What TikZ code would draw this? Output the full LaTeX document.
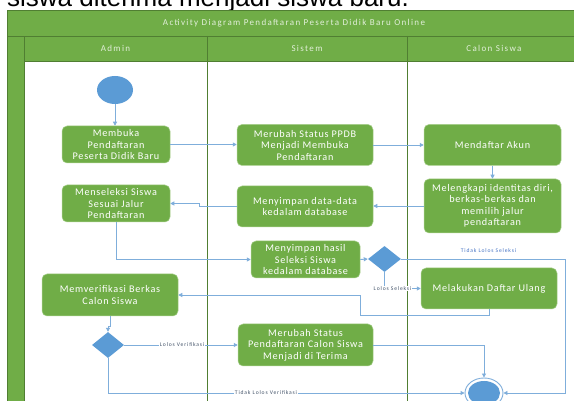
\documentclass[tikz,border=0pt]{standalone}
\usepackage{fontspec}
\usetikzlibrary{shapes.geometric,arrows.meta}
\newfontfamily\diafont{Carlito}[LetterSpace=15]
\newfontfamily\boxfont{Carlito}[LetterSpace=7]
\newfontfamily\topfont{Liberation Sans}
\definecolor{pgreen}{HTML}{70AD47}
\definecolor{dgreen}{HTML}{507E32}
\definecolor{lgreen}{HTML}{A9D08E}
\definecolor{pblue}{HTML}{5B9BD5}
\definecolor{lblue}{HTML}{7FAEDB}
\definecolor{labc}{HTML}{44546A}
\definecolor{labb}{HTML}{4472C4}
\definecolor{htext}{HTML}{E2EFDA}
\tikzset{
  actbox/.style={rectangle, rounded corners=5pt, fill=pgreen, draw=lgreen, line width=0.5pt,
    text=white, align=center, inner sep=1pt, font=\boxfont\fontsize{10.2}{11.5}\selectfont},
  decis/.style={diamond, fill=pblue, draw=none, inner sep=0pt},
  flow/.style={draw=lblue, line width=0.9pt, -{Triangle[length=4pt,width=4pt]}},
  flabel/.style={font=\diafont\fontsize{5.6}{6.5}\selectfont, text=labc, inner sep=0.6pt},
  hdr/.style={font=\diafont\fontsize{9}{11}\selectfont, text=htext}
}
\begin{document}
\begin{tikzpicture}[x=1pt,y=-1pt]
\clip (0,0) rectangle (574,401);
\fill[white] (0,0) rectangle (574,401);
% cut-off text at the top
\node[anchor=base west, inner sep=0pt, font=\topfont\fontsize{26}{30}\selectfont] (toptext) at (7,7) {siswa diterima menjadi siswa baru.};
% pool
\draw[dgreen, line width=0.8pt] (7,10) rectangle (582,412);
\filldraw[fill=pgreen, draw=dgreen, line width=0.8pt] (7,10) rectangle (582,36);
\filldraw[fill=pgreen, draw=dgreen, line width=0.8pt] (7,36) rectangle (582,61);
\filldraw[fill=pgreen, draw=dgreen, line width=0.8pt] (7,36) rectangle (24,412);
\draw[dgreen, line width=0.8pt] (207,36) -- (207,412);
\draw[dgreen, line width=0.8pt] (407,36) -- (407,412);
\node[hdr] (title) at (294,23) {Activity Diagram Pendaftaran Peserta Didik Baru Online};
\node[hdr] (admin) at (115.5,48.5) {Admin};
\node[hdr] (sistem) at (307,48.5) {Sistem};
\node[hdr] (calon) at (494,48.5) {Calon Siswa};
% nodes
\node[ellipse, fill=pblue, minimum width=36pt, minimum height=28pt, inner sep=0pt] (start) at (115,90) {};
\node[actbox, minimum width=108pt, minimum height=37pt] (n1) at (116,144.5) {Membuka\\Pendaftaran\\Peserta Didik Baru};
\node[actbox, minimum width=136pt, minimum height=41pt] (n2) at (305,145) {Merubah Status PPDB\\Menjadi Membuka\\Pendaftaran};
\node[actbox, minimum width=137pt, minimum height=41pt] (n3) at (492.5,145) {Mendaftar Akun};
\node[actbox, minimum width=137pt, minimum height=54pt] (n4) at (492.5,206) {Melengkapi identitas diri,\\berkas-berkas dan\\memilih jalur\\pendaftaran};
\node[actbox, minimum width=136pt, minimum height=41pt] (n5) at (305,206.5) {Menyimpan data-data\\kedalam database};
\node[actbox, minimum width=108pt, minimum height=37pt] (n6) at (116,203.5) {Menseleksi Siswa\\Sesuai Jalur\\Pendaftaran};
\node[actbox, minimum width=109pt, minimum height=37pt] (n7) at (305.5,259.5) {Menyimpan hasil\\Seleksi Siswa\\kedalam database};
\node[decis, minimum width=33pt, minimum height=26pt] (d1) at (384.5,259) {};
\node[actbox, minimum width=136pt, minimum height=41pt] (n8) at (489,288.5) {Melakukan Daftar Ulang};
\node[actbox, minimum width=136pt, minimum height=42pt] (n9) at (110,295) {Memverifikasi Berkas\\Calon Siswa};
\node[decis, minimum width=32pt, minimum height=26pt] (d2) at (108,345) {};
\node[actbox, minimum width=135pt, minimum height=42pt] (n10) at (305.5,345) {Merubah Status\\Pendaftaran Calon Siswa\\Menjadi di Terima};
\node[ellipse, draw=lblue, line width=0.9pt, minimum width=38pt, minimum height=30pt, inner sep=0pt] (end) at (484,393) {};
\node[ellipse, fill=pblue, minimum width=32pt, minimum height=24pt, inner sep=0pt] (endin) at (484,393) {};
% helper coordinates
\coordinate (c1) at (565,259);
\coordinate (k2) at (360,315);
\coordinate (k3) at (360,295);
\coordinate (j1) at (110,326);
\coordinate (s1) at (199,206.5);
% connectors
\draw[flow] (start.south) -- (start.south |- n1.north);
\draw[flow] (n1.east) -- (n1.east -| n2.west);
\draw[flow] (n2.east) -- (n2.east -| n3.west);
\draw[flow] (n3.south) -- (n3.south |- n4.north);
\draw[flow] (n4.west) -- (n4.west -| n5.east);
\draw[flow] (n5.west) -- (s1) |- (n6.east);
\draw[flow] (n6.south) |- (n7.west);
\draw[flow] (n7.east) -- (d1.west);
\draw[flow] (d1.south) |- (n8.west);
\draw[flow] (d1.east) -- (c1) |- (end.east);
\draw[flow] (n8.south) -- (n8.south |- k2) -- (k2) -- (k3) -- (k3 -| n9.east);
\draw[flow] (n9.south) -- (j1) -| (d2.north);
\draw[flow] (d2.east) -- (n10.west);
\draw[flow] (n10.east) -| (end.north);
\draw[flow] (d2.south) |- (end.west);
% labels
\node[flabel, fill=white] (l1) at (392.5,288.5) {Lolos Seleksi};
\node[flabel, text=labb] (l2) at (488.5,251) {Tidak Lolos Seleksi};
\node[flabel, fill=white] (l3) at (182,345) {Lolos Verifikasi};
\node[flabel, fill=white] (l4) at (266,393) {Tidak Lolos Verifikasi};
\end{tikzpicture}
\end{document}
